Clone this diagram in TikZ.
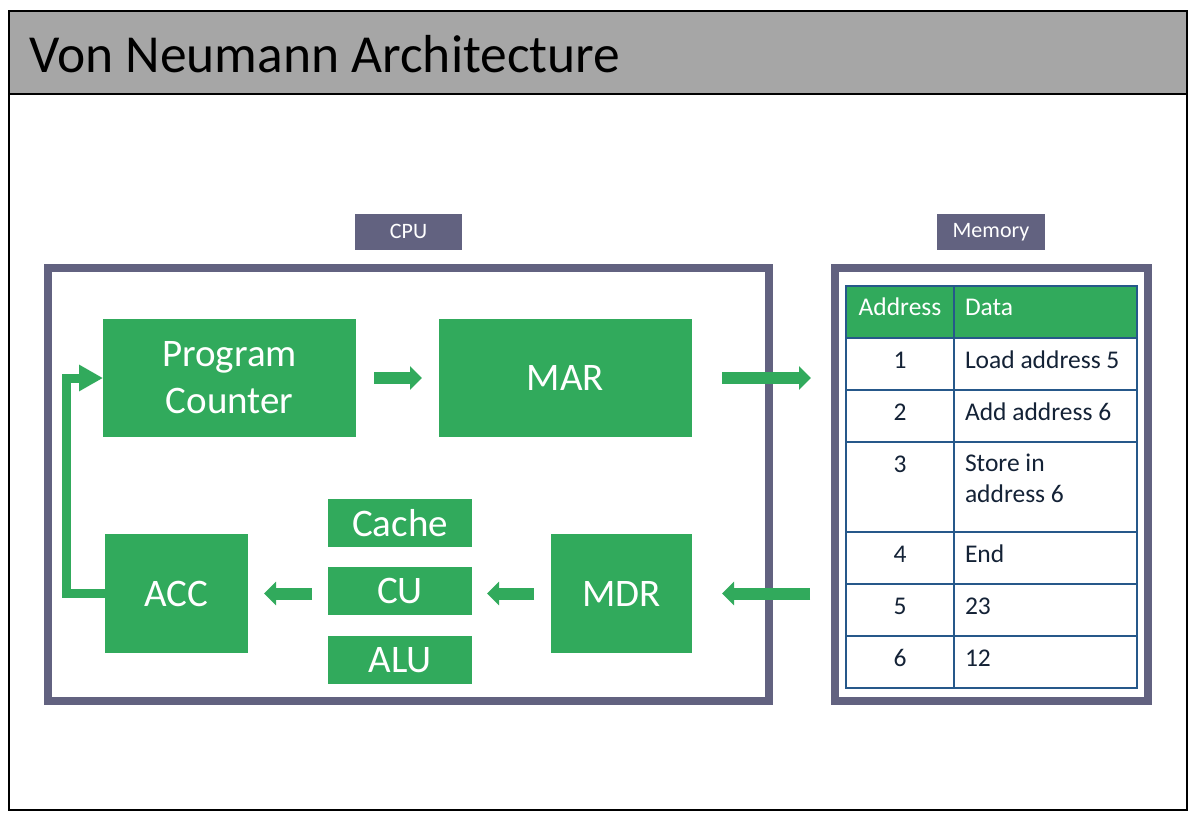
\documentclass[tikz,border=0pt]{standalone}
\usepackage{fontspec}
\setmainfont{Carlito}
\usetikzlibrary{arrows.meta}
\definecolor{vngreen}{RGB}{49,170,92}
\definecolor{vnframe}{RGB}{98,98,128}
\definecolor{vngrey}{RGB}{166,166,166}
\definecolor{vnline}{RGB}{38,88,138}
\definecolor{vntext}{RGB}{20,34,54}

\begin{document}
\begin{tikzpicture}[x=1pt,y=-1pt]
		 \tikzstyle{every node}+=[inner sep=0pt, outer sep=0pt]
		 \tikzstyle{unit}=[fill=vngreen, text=white, align=center, font=\fontsize{39}{47}\selectfont]
		 \tikzstyle{tag}=[fill=vnframe, text=white, minimum width=107, minimum height=36, text height=15, text depth=3, font=\fontsize{22}{26}\selectfont]
		 \tikzstyle{frame}=[draw=vnframe, line width=8, minimum height=433]
		 \tikzstyle{flow}=[draw=vngreen, line width=12, -{Triangle[width=23pt,length=12pt]}]
		 \tikzstyle{cell}=[text=vntext, font=\fontsize{25.5}{31}\selectfont]
		 \useasboundingbox (0,0) rectangle (1196,812);
		 % page and title bar
		 \fill [white] (0,0) rectangle (1196,812);
		 \fill [vngrey] (9,11) rectangle (1187,94);
		 \draw [black, line width=2.5] (9,94) -- (1187,94);
		 \draw [black, line width=2.5] (9,11) rectangle (1187,810);
		 \node [anchor=base west, font=\fontsize{53.5}{60}\selectfont] (title) at (29,72) {Von Neumann Architecture};
		 % frames and their tags
		 \node [frame, minimum width=721] (cpu) at (408.5,484.5) {};
		 \node [frame, minimum width=313] (mem) at (991.5,484.5) {};
		 \node [tag] (cputag) at (408.5,232) {CPU};
		 \node [tag, minimum width=108] (memtag) at (991,231.5) {Memory};
		 % units in the cpu
		 \node [unit, minimum width=253, minimum height=118] (pc) at (229.5,378) {Program\\Counter};
		 \node [unit, minimum width=253, minimum height=118] (mar) at (565.5,378) {MAR};
		 \node [unit, minimum width=143, minimum height=119] (acc) at (176.5,593.5) {ACC};
		 \node [unit, minimum width=141, minimum height=119] (mdr) at (621.5,593.5) {MDR};
		 \node [unit, minimum width=144, minimum height=48] (cache) at (400,523) {Cache};
		 \node [unit, minimum width=144, minimum height=48] (cu) at (400,591) {CU};
		 \node [unit, minimum width=144, minimum height=48] (alu) at (400,660) {ALU};
		 % data flow
		 \draw [flow, shorten <=18, shorten >=17] (pc) -- (mar);
		 \draw [flow, shorten <=30, shorten >=24] (mar.east) -- (mem.west |- mar.east);
		 \draw [flow, shorten <=25, shorten >=30] (mem.west |- mdr.east) -- (mdr.east);
		 \draw [flow, shorten <=17, shorten >=15] (mdr.west) -- (mdr.west -| cu.east);
		 \draw [flow, shorten <=16, shorten >=16] (cu.west |- acc.east) -- (acc.east);
		 \draw [draw=vngreen, line width=9, line join=miter, -{Triangle[width=25pt,length=24pt]}] (acc.west) -- ++(-39,0) |- (pc.west);
		 % memory table
		 \fill [vngreen] (846,286) rectangle (1137,338);
		 \draw [vnline, line width=1.5] (846,286) rectangle (1137,688);
		 \draw [vnline, line width=1.5] (954,286) -- (954,688);
		 \draw [vnline, line width=1.5] (846,338) -- (1137,338);
		 \draw [vnline, line width=1.5] (846,390) -- (1137,390);
		 \draw [vnline, line width=1.5] (846,442) -- (1137,442);
		 \draw [vnline, line width=1.5] (846,532) -- (1137,532);
		 \draw [vnline, line width=1.5] (846,584) -- (1137,584);
		 \draw [vnline, line width=1.5] (846,636) -- (1137,636);
		 \node [cell, text=white, anchor=base] (haddr) at (900,315) {Address};
		 \node [cell, text=white, anchor=base west] (hdata) at (965,315) {Data};
		 \node [cell, anchor=base] (a1) at (900,368) {1};
		 \node [cell, anchor=base west] (d1) at (965,368) {Load address 5};
		 \node [cell, anchor=base] (a2) at (900,420) {2};
		 \node [cell, anchor=base west] (d2) at (965,420) {Add address 6};
		 \node [cell, anchor=base] (a3) at (900,472) {3};
		 \node [cell, anchor=north west, align=left] (d3) at (965,454) {Store in\\address 6};
		 \node [cell, anchor=base] (a4) at (900,562) {4};
		 \node [cell, anchor=base west] (d4) at (965,562) {End};
		 \node [cell, anchor=base] (a5) at (900,614) {5};
		 \node [cell, anchor=base west] (d5) at (965,614) {23};
		 \node [cell, anchor=base] (a6) at (900,666) {6};
		 \node [cell, anchor=base west] (d6) at (965,666) {12};
	 \end{tikzpicture}
\end{document}
